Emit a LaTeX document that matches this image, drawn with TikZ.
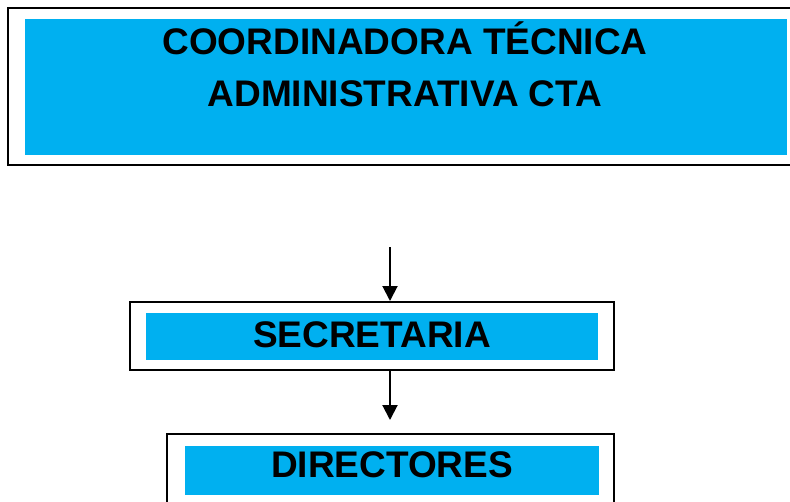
\documentclass[tikz,border=0pt]{standalone}
\usepackage{fontspec}
\setmainfont{Liberation Sans}
\usetikzlibrary{arrows.meta}
\definecolor{ctablue}{RGB}{0,176,240}
\tikzset{
	frame/.style = {rectangle, draw, line width=2pt, inner sep=0pt},
	fillbox/.style = {rectangle, fill=ctablue, inner sep=0pt},
	title/.style = {font=\fontsize{37}{52}\selectfont\bfseries, align=center, inner sep=0pt},
	link/.style = {-{Triangle[length=15pt,width=15pt]}, line width=2pt}}

\begin{document}
\begin{tikzpicture}[x=1pt, y=-1pt]
    \useasboundingbox (0,0) rectangle (790,501);
    \node (cta) [frame, minimum width=792.5pt, minimum height=157pt] at (403.75,86.5) {};
    \node (ctafill) [fillbox, minimum width=762pt, minimum height=136pt] at (406,87) {};
    \node (ctatext) [title] at (405,64) {COORDINADORA TÉCNICA\\ADMINISTRATIVA CTA};
    \node (sec) [frame, minimum width=484.5pt, minimum height=68pt] at (371.75,336) {};
    \node (secfill) [fillbox, minimum width=452pt, minimum height=47pt] at (372,336.5) {};
    \node (sectext) [title] at (372,335) {SECRETARIA};
    \node (dir) [frame, minimum width=447pt, minimum height=76pt] at (390.5,472) {};
    \node (dirfill) [fillbox, minimum width=414pt, minimum height=49pt] at (392,470.5) {};
    \node (dirtext) [title] at (392,465) {DIRECTORES};
    \coordinate (in) at (390,247);
    \draw [link] (in) -- (in |- sec.north);
    \draw [link, shorten >=13pt] (sec.south -| in) -- (dir.north -| in);
\end{tikzpicture}
\end{document}
